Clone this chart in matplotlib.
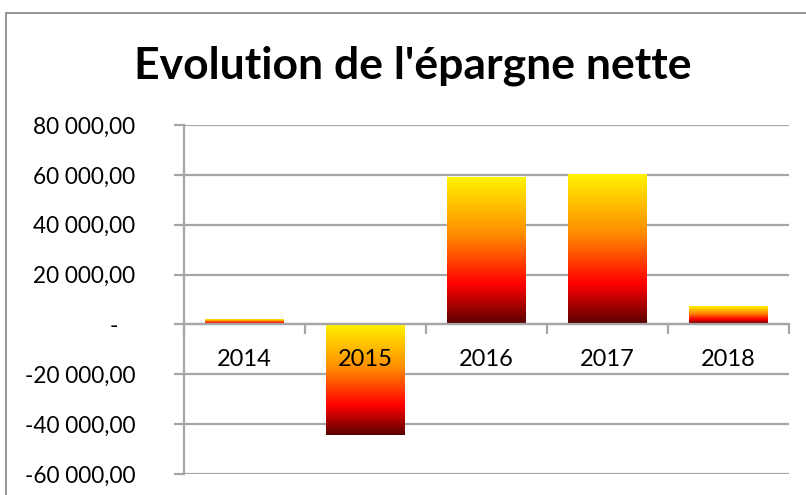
import matplotlib
matplotlib.use("Agg")
import matplotlib.pyplot as plt
import numpy as np
from matplotlib.colors import LinearSegmentedColormap
from matplotlib.patches import Rectangle
from matplotlib.ticker import FuncFormatter, FixedLocator

categories = ["2014", "2015", "2016", "2017", "2018"]
values = [2000, -44500, 58700, 60000, 7200]
yticks = [-60000, -40000, -20000, 0, 20000, 40000, 60000, 80000]
title = "Evolution de l'épargne nette"

plt.rcParams['font.family'] = ['Lato', 'DejaVu Sans']

fig = plt.figure(figsize=(8.06, 4.95), dpi=100)
ax = fig.add_axes([184/806, 1-474/495, (789-184)/806, (474-125)/495])

# outer border
fig.patches.append(Rectangle((6/806, -0.1), 1.2, 1 - 13/495 + 0.1, transform=fig.transFigure,
                             fill=False, edgecolor='#8C8C8C', lw=1.3))

cmap = LinearSegmentedColormap.from_list("grad", [(0, '#5A0000'), (0.27, '#FF0000'),
                                                  (0.6, '#FF8A00'), (1.0, '#FFF200')])
grad = np.linspace(0, 1, 256).reshape(-1, 1)
width = 0.65
x = np.arange(len(categories))
for xi, v in zip(x, values):
    lo, hi = min(0, v), max(0, v)
    ax.imshow(grad, extent=(xi - width/2, xi + width/2, lo, hi), origin='lower',
              aspect='auto', cmap=cmap, zorder=3)

ax.set_xlim(-0.5, len(categories) - 0.5)
ax.set_ylim(-60000, 80000)
ax.set_yticks(yticks)

def fmt(v, pos):
    if v == 0:
        return "-   "
    s = f"{abs(v):,.2f}".replace(",", " ").replace(".", ",")
    return ("-" if v < 0 else "") + s
ax.yaxis.set_major_formatter(FuncFormatter(fmt))
ax.grid(axis='y', color='#A6A6A6', lw=1.6, zorder=1)
ax.set_axisbelow(True)

for s in ['top', 'right']:
    ax.spines[s].set_visible(False)
ax.spines['left'].set_color('#A6A6A6')
ax.spines['left'].set_linewidth(1.6)
ax.spines['bottom'].set_position(('data', 0))
ax.spines['bottom'].set_color('#A6A6A6')
ax.spines['bottom'].set_linewidth(1.6)
ax.spines['bottom'].set_zorder(4)

ax.xaxis.set_major_locator(FixedLocator(np.arange(len(categories) + 1) - 0.5))
ax.set_xticklabels([""] * (len(categories) + 1))
ax.tick_params(axis='x', which='major', length=7, width=1.6, color='#A6A6A6', direction='out')
ax.tick_params(axis='y', length=7, width=1.6, color='#A6A6A6', labelsize=16.3, pad=28)

for xi, c in zip(x, categories):
    ax.annotate(c, xy=(xi, 0), xycoords='data', xytext=(0, -35), textcoords='offset pixels',
                ha='center', va='center', fontsize=17, zorder=10)

fig.text(413/806, 1 - 66/495, title, ha='center', va='center', fontsize=32, fontweight='bold')

fig.savefig("out.png", dpi=100)
